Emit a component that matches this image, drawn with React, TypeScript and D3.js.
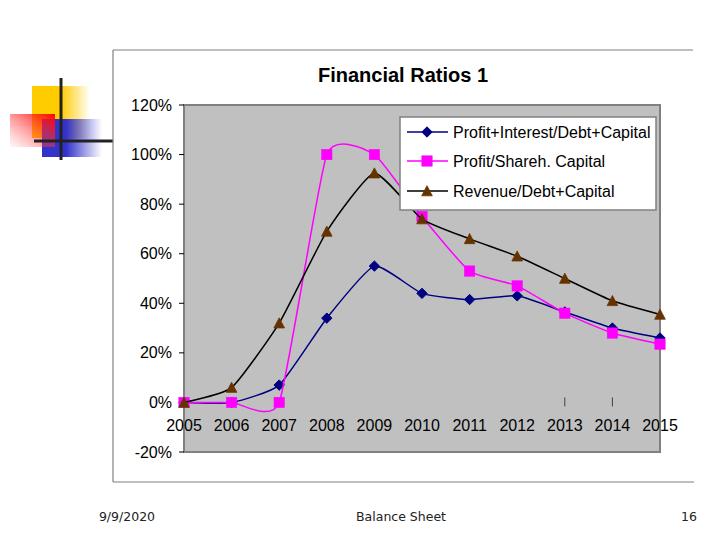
import React from "react";
import * as d3 from "d3";

const years = ["2005", "2006", "2007", "2008", "2009", "2010", "2011", "2012", "2013", "2014", "2015"];
const profitInterest = [0, 0, 7, 34, 55, 44, 41.5, 43, 36.5, 30, 26];
const profitShareh = [0, 0, 0, 100, 100, 75, 53, 47, 36, 28, 23.5];
const revenueDebt = [0, 6, 32, 69, 92.5, 74, 66, 59, 50, 41, 35.5];
const yTicks = [-20, 0, 20, 40, 60, 80, 100, 120];
const visibleXTicks = ["2013", "2014"];
const seriesNames = ["Profit+Interest/Debt+Capital", "Profit/Shareh. Capital", "Revenue/Debt+Capital"];
const title = "Financial Ratios 1";
const footerDate = "9/9/2020";
const footerTitle = "Balance Sheet";
const footerPage = "16";

const W = 720;
const H = 540;
const plot = { left: 184, right: 660, top: 105, bottom: 452 };
const font = "Liberation Sans, Arial, sans-serif";

function Marker({ kind, x, y }: { kind: number; x: number; y: number }) {
  if (kind === 0) {
    const s = 5.2;
    return (
      <path
        d={`M${x},${y - s}L${x + s},${y}L${x},${y + s}L${x - s},${y}Z`}
        fill="#000080"
        stroke="#000080"
        strokeWidth={1}
      />
    );
  }
  if (kind === 1) {
    const s = 5.2;
    return <rect x={x - s} y={y - s} width={2 * s} height={2 * s} fill="#FF00FF" stroke="#FF00FF" strokeWidth={0.5} />;
  }
  const s = 5.3;
  return (
    <path
      d={`M${x},${y - s}L${x + s},${y + s - 0.5}L${x - s},${y + s - 0.5}Z`}
      fill="#663300"
      stroke="#663300"
      strokeWidth={0.8}
    />
  );
}

export default function App() {
  const x = d3.scalePoint<string>().domain(years).range([plot.left, plot.right]);
  const y = d3.scaleLinear().domain([-20, 120]).range([plot.bottom, plot.top]);
  const data = [profitInterest, profitShareh, revenueDebt];
  const lineColors = ["#000080", "#FF00FF", "#000000"];
  const line = d3
    .line<number>()
    .x((_, i) => x(years[i]) as number)
    .y((d) => y(d))
    .curve(d3.curveCardinal.tension(0.5));

  const legend = { x: 400, y: 117, w: 256, h: 93 };
  const legendRows = [132, 161, 191];

  return (
    <svg width={W} height={H} style={{ position: "absolute", left: 0, top: 0, background: "#fff" }}>
      <defs>
        <linearGradient id="gy" x1="0" y1="0" x2="1" y2="0">
          <stop offset="0.5" stopColor="#FFCC00" stopOpacity={1} />
          <stop offset="1" stopColor="#FFCC00" stopOpacity={0} />
        </linearGradient>
        <linearGradient id="gb" x1="0" y1="0" x2="1" y2="0">
          <stop offset="0.4" stopColor="#3333CC" stopOpacity={1} />
          <stop offset="1" stopColor="#3333CC" stopOpacity={0} />
        </linearGradient>
        <linearGradient id="gr" x1="1" y1="0" x2="0" y2="1">
          <stop offset="0" stopColor="#FF0000" stopOpacity={1} />
          <stop offset="1" stopColor="#FF6666" stopOpacity={0.05} />
        </linearGradient>
      </defs>

      {/* decoration */}
      <rect x={32} y={86} width={58} height={52} fill="url(#gy)" />
      <rect x={42} y={119} width={60} height={38} fill="url(#gb)" />
      <rect x={10} y={114} width={45} height={33} fill="url(#gr)" />
      <line x1={61} y1={78} x2={61} y2={160} stroke="#222" strokeWidth={3} />
      <line x1={34} y1={141} x2={113} y2={141} stroke="#222" strokeWidth={3} />

      {/* chart frame */}
      <line x1={113} y1={50} x2={693} y2={50} stroke="#808080" strokeWidth={1.2} />
      <line x1={113} y1={482} x2={694} y2={482} stroke="#808080" strokeWidth={1.2} />
      <line x1={113} y1={50} x2={113} y2={482} stroke="#808080" strokeWidth={1.2} />

      <text x={403} y={82} textAnchor="middle" fontFamily={font} fontWeight="bold" fontSize={20} fill="#000">
        {title}
      </text>

      {/* plot area */}
      <rect
        x={plot.left}
        y={plot.top}
        width={plot.right - plot.left}
        height={plot.bottom - plot.top}
        fill="#C0C0C0"
        stroke="#808080"
        strokeWidth={2}
      />

      {/* y axis */}
      {yTicks.map((t) => (
        <g key={t}>
          <line x1={179} x2={plot.left} y1={y(t)} y2={y(t)} stroke="#000" strokeWidth={1} />
          <text x={172} y={y(t) + 5.5} textAnchor="end" fontFamily={font} fontSize={16} fill="#000">
            {`${t}%`}
          </text>
        </g>
      ))}

      {/* x axis ticks at zero */}
      {visibleXTicks.map((yr) => (
        <line key={yr} x1={x(yr)} x2={x(yr)} y1={y(0) - 5} y2={y(0) + 4} stroke="#404040" strokeWidth={1} />
      ))}
      {years.map((yr) => (
        <text
          key={yr}
          x={x(yr)}
          y={y(0) + 29}
          textAnchor="middle"
          fontFamily={font}
          fontSize={16}
          fill="#000"
        >
          {yr}
        </text>
      ))}

      {/* series */}
      {data.map((s, k) => (
        <g key={k}>
          <path d={line(s) || ""} fill="none" stroke={lineColors[k]} strokeWidth={1.5} />
          {s.map((v, i) => (
            <Marker key={i} kind={k} x={x(years[i]) as number} y={y(v)} />
          ))}
        </g>
      ))}

      {/* legend */}
      <rect x={legend.x} y={legend.y} width={legend.w} height={legend.h} fill="#fff" stroke="#808080" strokeWidth={1.5} />
      {seriesNames.map((n, k) => (
        <g key={n}>
          <line x1={407} x2={448} y1={legendRows[k]} y2={legendRows[k]} stroke={lineColors[k]} strokeWidth={1.5} />
          <Marker kind={k} x={427} y={legendRows[k]} />
          <text x={453} y={legendRows[k] + 5.5} fontFamily={font} fontSize={16} fill="#000">
            {n}
          </text>
        </g>
      ))}

      {/* footer */}
      <text x={127} y={521} textAnchor="middle" fontFamily="DejaVu Sans, sans-serif" fontSize={12.5} fill="#222">
        {footerDate}
      </text>
      <text x={401} y={521} textAnchor="middle" fontFamily="DejaVu Sans, sans-serif" fontSize={12.5} fill="#222">
        {footerTitle}
      </text>
      <text x={697} y={521} textAnchor="end" fontFamily="DejaVu Sans, sans-serif" fontSize={12.5} fill="#222">
        {footerPage}
      </text>
    </svg>
  );
}
